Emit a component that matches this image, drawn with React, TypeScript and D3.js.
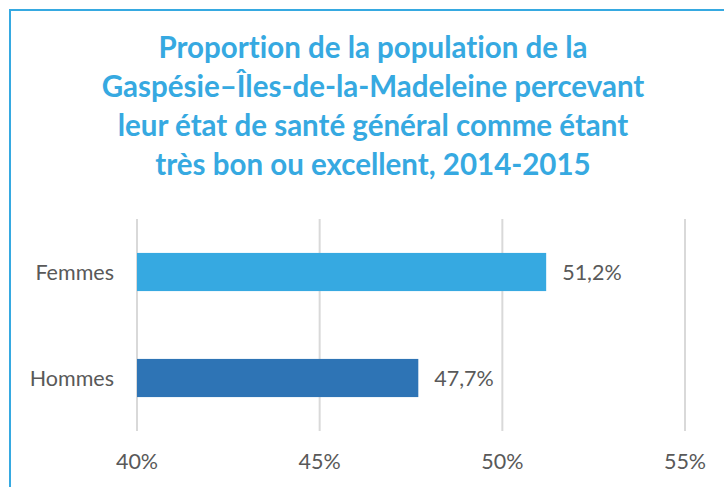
import * as d3 from "d3";

const categories = ["Femmes", "Hommes"];
const values = [51.2, 47.7];
const barColors = ["#36a9e1", "#2e74b5"];
const ticks = [40, 45, 50, 55];
const titleLines = [
  "Proportion de la population de la",
  "Gaspésie–Îles-de-la-Madeleine percevant",
  "leur état de santé général comme étant",
  "très bon ou excellent, 2014-2015",
];

const fmt = (v: number) => d3.format(".1f")(v).replace(".", ",") + "%";

export default function App() {
  const width = 724;
  const height = 487;
  const marginLeft = 137;
  const marginRight = 39;
  const marginTop = 219;
  const marginBottom = 56;

  const x = d3.scaleLinear().domain([40, 55]).range([marginLeft, width - marginRight]);
  const y = d3
    .scaleBand()
    .domain(categories)
    .range([marginTop, height - marginBottom])
    .paddingInner(0.64)
    .paddingOuter(0.32);

  const font = "Lato, 'Open Sans', sans-serif";

  return (
    <svg
      width={width}
      height={height}
      style={{
        position: "absolute",
        left: 0,
        top: 0,
        background: "#fff",
        fontFamily: font,
        fontVariantLigatures: "none",
      }}
    >
      <rect x={10} y={10} width={width + 20} height={height + 20} fill="#fff" stroke="#36a9e1" strokeWidth={2} />
      <g fill="#36a9e1" fontWeight="bold" fontSize={29.5} textAnchor="middle">
        {titleLines.map((t, i) => (
          <text key={i} x={373} y={58 + i * 39}>{t}</text>
        ))}
      </g>
      <g stroke="#d9d9d9" strokeWidth={2}>
        {ticks.map((t) => (
          <line key={t} x1={x(t)} x2={x(t)} y1={marginTop} y2={height - marginBottom} />
        ))}
      </g>
      <g>
        {categories.map((c, i) => (
          <rect
            key={c}
            x={x(40)}
            y={y(c)}
            width={x(values[i]) - x(40)}
            height={y.bandwidth()}
            fill={barColors[i]}
          />
        ))}
      </g>
      <g fill="#595959" fontSize={21.5}>
        {categories.map((c, i) => (
          <text key={c} x={x(values[i]) + 16} y={(y(c) ?? 0) + y.bandwidth() / 2} dy="0.35em">
            {fmt(values[i])}
          </text>
        ))}
        {categories.map((c) => (
          <text key={c} x={114} y={(y(c) ?? 0) + y.bandwidth() / 2} dy="0.35em" textAnchor="end">
            {c}
          </text>
        ))}
        {ticks.map((t) => (
          <text key={t} x={x(t)} y={469} textAnchor="middle">
            {t}%
          </text>
        ))}
      </g>
    </svg>
  );
}
